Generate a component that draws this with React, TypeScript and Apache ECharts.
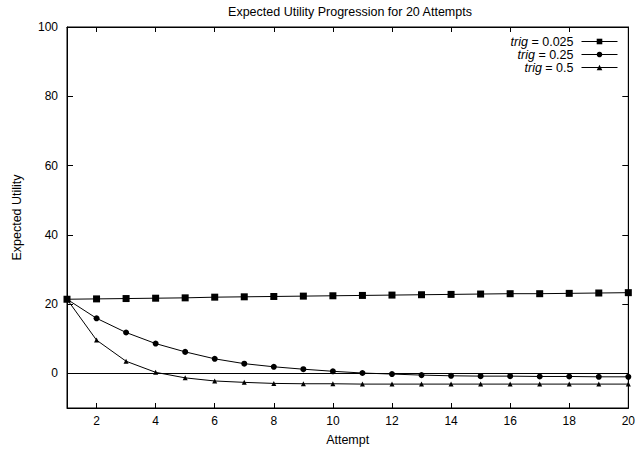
import React, { useEffect, useRef } from "react";
import * as echarts from "echarts";

const attempts = [1, 2, 3, 4, 5, 6, 7, 8, 9, 10, 11, 12, 13, 14, 15, 16, 17, 18, 19, 20];
const trig0025 = [21.4, 21.5, 21.6, 21.7, 21.8, 22.0, 22.1, 22.2, 22.3, 22.4, 22.5, 22.6, 22.7, 22.8, 22.9, 23.0, 23.0, 23.1, 23.2, 23.3];
const trig025 = [21.4, 15.9, 11.8, 8.6, 6.2, 4.2, 2.8, 1.9, 1.2, 0.6, 0.1, -0.2, -0.5, -0.7, -0.8, -0.8, -0.9, -0.9, -1.0, -1.0];
const trig05 = [21.4, 9.6, 3.5, 0.3, -1.3, -2.2, -2.6, -2.9, -3.0, -3.0, -3.1, -3.1, -3.1, -3.1, -3.1, -3.1, -3.1, -3.1, -3.1, -3.1];
const xTicks = [2, 4, 6, 8, 10, 12, 14, 16, 18, 20];
const yTicks = [0, 20, 40, 60, 80, 100];
const seriesNames = ["trig = 0.025", "trig = 0.25", "trig = 0.5"];

const FONT = "'Liberation Sans', Arial, Helvetica, sans-serif";

export default function App() {
  const ref = useRef<HTMLDivElement>(null);
  useEffect(() => {
    if (!ref.current) return;
    const chart = echarts.init(ref.current, null, { renderer: "svg" });
    const pair = (ys: number[]) => attempts.map((x, i) => [x, ys[i]]);
    const baseX = {
      type: "value",
      min: 1,
      max: 20,
      axisLine: { show: true, onZero: false, lineStyle: { color: "#000", width: 1 } },
      axisTick: { show: true, inside: true, length: 5, customValues: xTicks, lineStyle: { color: "#000" } },
      splitLine: { show: false },
    };
    const baseY = {
      type: "value",
      min: -10,
      max: 100,
      axisLine: { show: true, onZero: false, lineStyle: { color: "#000", width: 1 } },
      axisTick: { show: true, inside: true, length: 6, customValues: yTicks, lineStyle: { color: "#000" } },
      splitLine: { show: false },
    };
    const lineSeries = (name: string, data: number[], symbol: string, size: number, extra: any = {}) => ({
      name,
      type: "line",
      data: pair(data),
      symbol,
      symbolSize: size,
      showAllSymbol: true,
      lineStyle: { color: "#000", width: 1 },
      itemStyle: { color: "#000" },
      ...extra,
    });
    chart.setOption({
      animation: false,
      backgroundColor: "#fff",
      textStyle: { fontFamily: FONT },
      title: {
        text: "Expected Utility Progression for 20 Attempts",
        left: 350,
        textAlign: "center",
        top: 0,
        padding: [5, 0, 0, 0],
        textStyle: { fontFamily: FONT, fontSize: 12.5, fontWeight: "normal", color: "#000" },
      },
      legend: {
        data: seriesNames,
        orient: "vertical",
        right: 20,
        top: 35,
        padding: 0,
        align: "right",
        itemWidth: 36,
        itemHeight: 7,
        itemGap: 0,
        lineStyle: { width: 1, color: "#000" },
        formatter: (name: string) => `{i|trig}{n|${name.slice(4)}}`,
        textStyle: {
          fontFamily: FONT,
          fontSize: 12.5,
          color: "#000",
          lineHeight: 12,
          padding: [0, 3, 0, 0],
          rich: {
            i: { fontStyle: "italic", fontFamily: FONT, fontSize: 12.5, color: "#000", lineHeight: 12 },
            n: { fontFamily: FONT, fontSize: 12.5, color: "#000", lineHeight: 12 },
          },
        },
      },
      grid: {
        left: 67,
        right: 5,
        top: 27,
        bottom: 43,
        show: true,
        borderColor: "#000",
        borderWidth: 1,
        backgroundColor: "transparent",
      },
      xAxis: [
        {
          ...baseX,
          position: "bottom",
          name: "Attempt",
          nameLocation: "middle",
          nameGap: 25,
          nameTextStyle: { fontFamily: FONT, fontSize: 12.5, color: "#000" },
          axisLabel: { show: true, customValues: xTicks, color: "#000", fontFamily: FONT, fontSize: 12, margin: 7 },
        },
        { ...baseX, position: "top", axisLabel: { show: false } },
      ],
      yAxis: [
        {
          ...baseY,
          position: "left",
          name: "Expected Utility",
          nameLocation: "middle",
          nameGap: 44,
          nameTextStyle: { fontFamily: FONT, fontSize: 12.5, color: "#000" },
          axisLabel: { show: true, customValues: yTicks, color: "#000", fontFamily: FONT, fontSize: 12, margin: 9 },
        },
        { ...baseY, position: "right", axisLabel: { show: false } },
      ],
      series: [
        lineSeries(seriesNames[0], trig0025, "rect", 7, {
          markLine: {
            silent: true,
            symbol: "none",
            label: { show: false },
            lineStyle: { color: "#000", width: 1, type: "solid" },
            data: [{ yAxis: 0 }],
          },
        }),
        lineSeries(seriesNames[1], trig025, "circle", 6),
        lineSeries(seriesNames[2], trig05, "triangle", 5),
      ],
    });
    return () => chart.dispose();
  }, []);
  return (
    <div
      ref={ref}
      style={{ position: "fixed", left: 0, top: 0, width: 638, height: 451 }}
    />
  );
}
